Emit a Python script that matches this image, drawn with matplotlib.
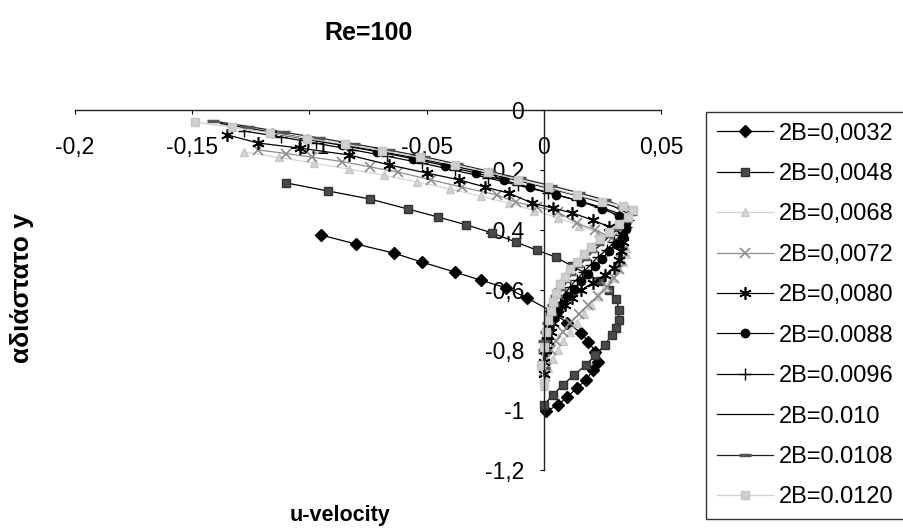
import matplotlib
matplotlib.use("Agg")
import matplotlib.pyplot as plt

plt.rcParams['font.family'] = ['Liberation Sans', 'DejaVu Sans']

# ---- data ----
u_0032 = [-0.095, -0.080, -0.064, -0.052, -0.038, -0.027, -0.016, -0.007, 0.003, 0.010,
          0.016, 0.019, 0.022, 0.023, 0.021, 0.018, 0.014, 0.010, 0.006, 0.001]
y_0032 = [-0.417, -0.447, -0.477, -0.507, -0.540, -0.567, -0.593, -0.627, -0.670, -0.710,
          -0.743, -0.773, -0.805, -0.840, -0.867, -0.900, -0.927, -0.957, -0.983, -1.005]

u_0048 = [-0.110, -0.092, -0.074, -0.058, -0.045, -0.033, -0.022, -0.012, -0.003, 0.005, 0.012,
          0.018, 0.024, 0.028, 0.031, 0.032, 0.032, 0.031, 0.029, 0.026, 0.022, 0.018, 0.013,
          0.008, 0.004, 0.000]
y_0048 = [-0.243, -0.270, -0.297, -0.330, -0.357, -0.383, -0.410, -0.440, -0.467, -0.490, -0.520,
          -0.545, -0.570, -0.600, -0.630, -0.665, -0.700, -0.725, -0.750, -0.783, -0.817, -0.850, -0.883,
          -0.917, -0.950, -0.983]

u_0068 = [-0.128, -0.113, -0.098, -0.083, -0.068, -0.054, -0.040, -0.027, -0.015, -0.004, 0.006,
          0.015, 0.023, 0.030, 0.035, 0.035, 0.034, 0.032, 0.029, 0.026, 0.023, 0.020, 0.017, 0.014,
          0.011, 0.008, 0.006, 0.004, 0.002, 0.001, 0.000]
y_0068 = [-0.140, -0.158, -0.177, -0.197, -0.218, -0.240, -0.263, -0.287, -0.311, -0.335, -0.360,
          -0.385, -0.410, -0.435, -0.460, -0.480, -0.505, -0.530, -0.560, -0.590, -0.620, -0.650, -0.680, -0.710,
          -0.740, -0.770, -0.800, -0.830, -0.860, -0.890, -0.920]

u_0072 = [-0.122, -0.110, -0.099, -0.086, -0.074, -0.062, -0.048, -0.035, -0.020, -0.012, -0.003,
          0.006, 0.014, 0.022, 0.029, 0.034, 0.034, 0.033, 0.032, 0.030, 0.027, 0.023, 0.019, 0.015,
          0.011, 0.008, 0.005, 0.003, 0.001, 0.000]
y_0072 = [-0.133, -0.145, -0.157, -0.172, -0.190, -0.207, -0.233, -0.257, -0.283, -0.307, -0.322,
          -0.340, -0.377, -0.400, -0.425, -0.450, -0.470, -0.500, -0.530, -0.560, -0.590, -0.620, -0.650, -0.680,
          -0.710, -0.740, -0.770, -0.800, -0.830, -0.870]

u_0080 = [-0.135, -0.122, -0.104, -0.083, -0.066, -0.050, -0.036, -0.025, -0.015, -0.005, 0.004,
          0.012, 0.021, 0.028, 0.034, 0.034, 0.033, 0.032, 0.030, 0.026, 0.021, 0.016, 0.012, 0.009,
          0.006, 0.004, 0.003, 0.002, 0.001, 0.000, 0.000]
y_0080 = [-0.083, -0.110, -0.127, -0.150, -0.183, -0.210, -0.233, -0.257, -0.277, -0.310, -0.327,
          -0.343, -0.367, -0.390, -0.415, -0.440, -0.470, -0.500, -0.525, -0.550, -0.575, -0.600, -0.625, -0.650,
          -0.680, -0.710, -0.740, -0.770, -0.800, -0.840, -0.880]

u_0088 = [-0.116, -0.101, -0.086, -0.071, -0.056, -0.042, -0.029, -0.017, -0.006, 0.005, 0.016,
          0.025, 0.032, 0.035, 0.035, 0.034, 0.031, 0.028, 0.025, 0.022, 0.019, 0.016, 0.013, 0.010,
          0.008, 0.006, 0.004, 0.002, 0.001, 0.000]
y_0088 = [-0.077, -0.098, -0.118, -0.139, -0.162, -0.186, -0.210, -0.234, -0.258, -0.282, -0.306,
          -0.330, -0.352, -0.375, -0.395, -0.420, -0.445, -0.470, -0.495, -0.520, -0.545, -0.570, -0.595, -0.620,
          -0.645, -0.670, -0.695, -0.725, -0.760, -0.800]

u_0096 = [-0.128, -0.112, -0.097, -0.082, -0.067, -0.052, -0.038, -0.024, -0.011, 0.002, 0.014,
          0.024, 0.032, 0.036, 0.035, 0.033, 0.030, 0.027, 0.023, 0.020, 0.017, 0.014, 0.011, 0.009,
          0.007, 0.005, 0.004, 0.002, 0.001, 0.000]
y_0096 = [-0.070, -0.090, -0.111, -0.132, -0.154, -0.177, -0.201, -0.226, -0.251, -0.276, -0.300,
          -0.323, -0.345, -0.365, -0.390, -0.415, -0.440, -0.465, -0.490, -0.515, -0.540, -0.565, -0.590, -0.615,
          -0.640, -0.665, -0.690, -0.730, -0.770, -0.810]

u_010 = [-0.138, -0.122, -0.106, -0.090, -0.074, -0.058, -0.043, -0.029, -0.015, -0.002, 0.010,
         0.021, 0.030, 0.036, 0.035, 0.032, 0.028, 0.025, 0.021, 0.018, 0.015, 0.012, 0.010, 0.008,
         0.006, 0.005, 0.004, 0.003, 0.002, 0.001, 0.000]
y_010 = [-0.045, -0.066, -0.088, -0.110, -0.132, -0.155, -0.179, -0.203, -0.228, -0.253, -0.277,
         -0.300, -0.322, -0.345, -0.370, -0.395, -0.420, -0.445, -0.470, -0.495, -0.520, -0.545, -0.570, -0.595,
         -0.620, -0.650, -0.680, -0.710, -0.740, -0.770, -0.840]

u_0108 = [-0.141, -0.126, -0.111, -0.096, -0.081, -0.066, -0.051, -0.037, -0.023, -0.010, 0.003,
          0.015, 0.026, 0.034, 0.037, 0.035, 0.031, 0.027, 0.023, 0.020, 0.017, 0.014, 0.011, 0.009,
          0.007, 0.005, 0.004, 0.003, 0.002, 0.001, 0.000, 0.000, 0.000]
y_0108 = [-0.037, -0.055, -0.074, -0.093, -0.113, -0.134, -0.156, -0.180, -0.205, -0.228, -0.252,
          -0.276, -0.300, -0.322, -0.345, -0.370, -0.395, -0.420, -0.445, -0.470, -0.495, -0.520, -0.545, -0.570,
          -0.595, -0.620, -0.650, -0.680, -0.710, -0.740, -0.770, -0.800, -0.860]

u_0120 = [-0.149, -0.133, -0.117, -0.101, -0.085, -0.069, -0.053, -0.038, -0.024, -0.011, 0.002,
          0.014, 0.025, 0.034, 0.038, 0.036, 0.032, 0.028, 0.024, 0.020, 0.017, 0.014, 0.011, 0.009,
          0.007, 0.005, 0.004, 0.003, 0.002, 0.001, 0.000, -0.001, 0.000]
y_0120 = [-0.040, -0.058, -0.076, -0.095, -0.114, -0.135, -0.158, -0.182, -0.207, -0.232, -0.258,
          -0.283, -0.305, -0.320, -0.333, -0.355, -0.380, -0.405, -0.430, -0.455, -0.480, -0.505, -0.530, -0.555,
          -0.580, -0.610, -0.640, -0.670, -0.700, -0.740, -0.790, -0.850, -0.910]

labels = ["2B=0,0032", "2B=0,0048", "2B=0,0068", "2B=0,0072", "2B=0,0080",
          "2B=0.0088", "2B=0.0096", "2B=0.010", "2B=0.0108", "2B=0.0120"]

x_ticks = [-0.2, -0.15, -0.1, -0.05, 0, 0.05]
x_tick_labels = ["-0,2", "-0,15", "-0,1", "-0,05", "0", "0,05"]
y_ticks = [0, -0.2, -0.4, -0.6, -0.8, -1.0, -1.2]
y_tick_labels = ["0", "-0,2", "-0,4", "-0,6", "-0,8", "-1", "-1,2"]

series = [(u_0032, y_0032), (u_0048, y_0048), (u_0068, y_0068), (u_0072, y_0072),
          (u_0080, y_0080), (u_0088, y_0088), (u_0096, y_0096), (u_010, y_010),
          (u_0108, y_0108), (u_0120, y_0120)]

# estilo de cada série (linha, marcador, cor do marcador, tamanho)
estilos = [
    dict(color="black", marker="D", mfc="black", mec="black", ms=6),
    dict(color="black", marker="s", mfc="#4a4a4a", mec="#333333", ms=6),
    dict(color="#d4d4d4", marker="^", mfc="#d4d4d4", mec="#c8c8c8", ms=6),
    dict(color="#8c8c8c", marker="x", mfc="none", mec="#8c8c8c", ms=7, mew=1.2),
    dict(color="black", marker=(6, 2, 0), mfc="black", mec="black", ms=9, mew=1.2),
    dict(color="black", marker="o", mfc="black", mec="black", ms=6),
    dict(color="black", marker="+", mfc="black", mec="black", ms=8, mew=1.0),
    dict(color="black", marker="None"),
    dict(color="#222222", marker="_", mfc="#555555", mec="#555555", ms=9, mew=2.5),
    dict(color="#cfcfcf", marker="s", mfc="#cfcfcf", mec="#c4c4c4", ms=6),
]

fig = plt.figure(figsize=(9.04, 5.32), dpi=100)
ax = fig.add_axes([75 / 904, 1 - 470 / 532, 586 / 904, 360 / 532])

for (u, y), est, lab in zip(series, estilos, labels):
    ax.plot(u, y, linewidth=0.9, label=lab, **est)

ax.set_xlim(-0.2, 0.05)
ax.set_ylim(-1.2, 0)

# eixos cruzam em (0, 0), como no Excel
ax.spines['top'].set_visible(False)
ax.spines['right'].set_visible(False)
ax.spines['bottom'].set_position(('data', 0))
ax.spines['left'].set_position(('data', 0))
for s in ('bottom', 'left'):
    ax.spines[s].set_linewidth(1.0)
    ax.spines[s].set_color('#222222')

ax.set_xticks(x_ticks)
ax.set_xticklabels(x_tick_labels)
ax.set_yticks(y_ticks)
ax.set_yticklabels(y_tick_labels)
ax.tick_params(axis='x', direction='out', length=3, pad=16, labelsize=16.5)
ax.tick_params(axis='y', direction='out', length=3, pad=11, labelsize=16.5)

fig.text(368 / 904, 1 - 33 / 532, "Re=100", ha='center', va='center',
         fontsize=18, fontweight='bold')
fig.text(340 / 904, 1 - 515 / 532, "u-velocity", ha='center', va='center',
         fontsize=15.5, fontweight='bold')
fig.text(22 / 904, 1 - 288 / 532, "αδιάστατο y", ha='center', va='center',
         rotation=90, fontsize=19, fontweight='bold')

leg = ax.legend(loc='upper left', bbox_to_anchor=(706 / 904, 1 - 112 / 532),
                bbox_transform=fig.transFigure, fontsize=17, frameon=True,
                fancybox=False, borderaxespad=0, handlelength=2.4,
                handletextpad=0.25, labelspacing=0.78, borderpad=0.45)
leg.get_frame().set_edgecolor('black')
leg.get_frame().set_linewidth(1.0)

fig.savefig("out.png", dpi=100)
